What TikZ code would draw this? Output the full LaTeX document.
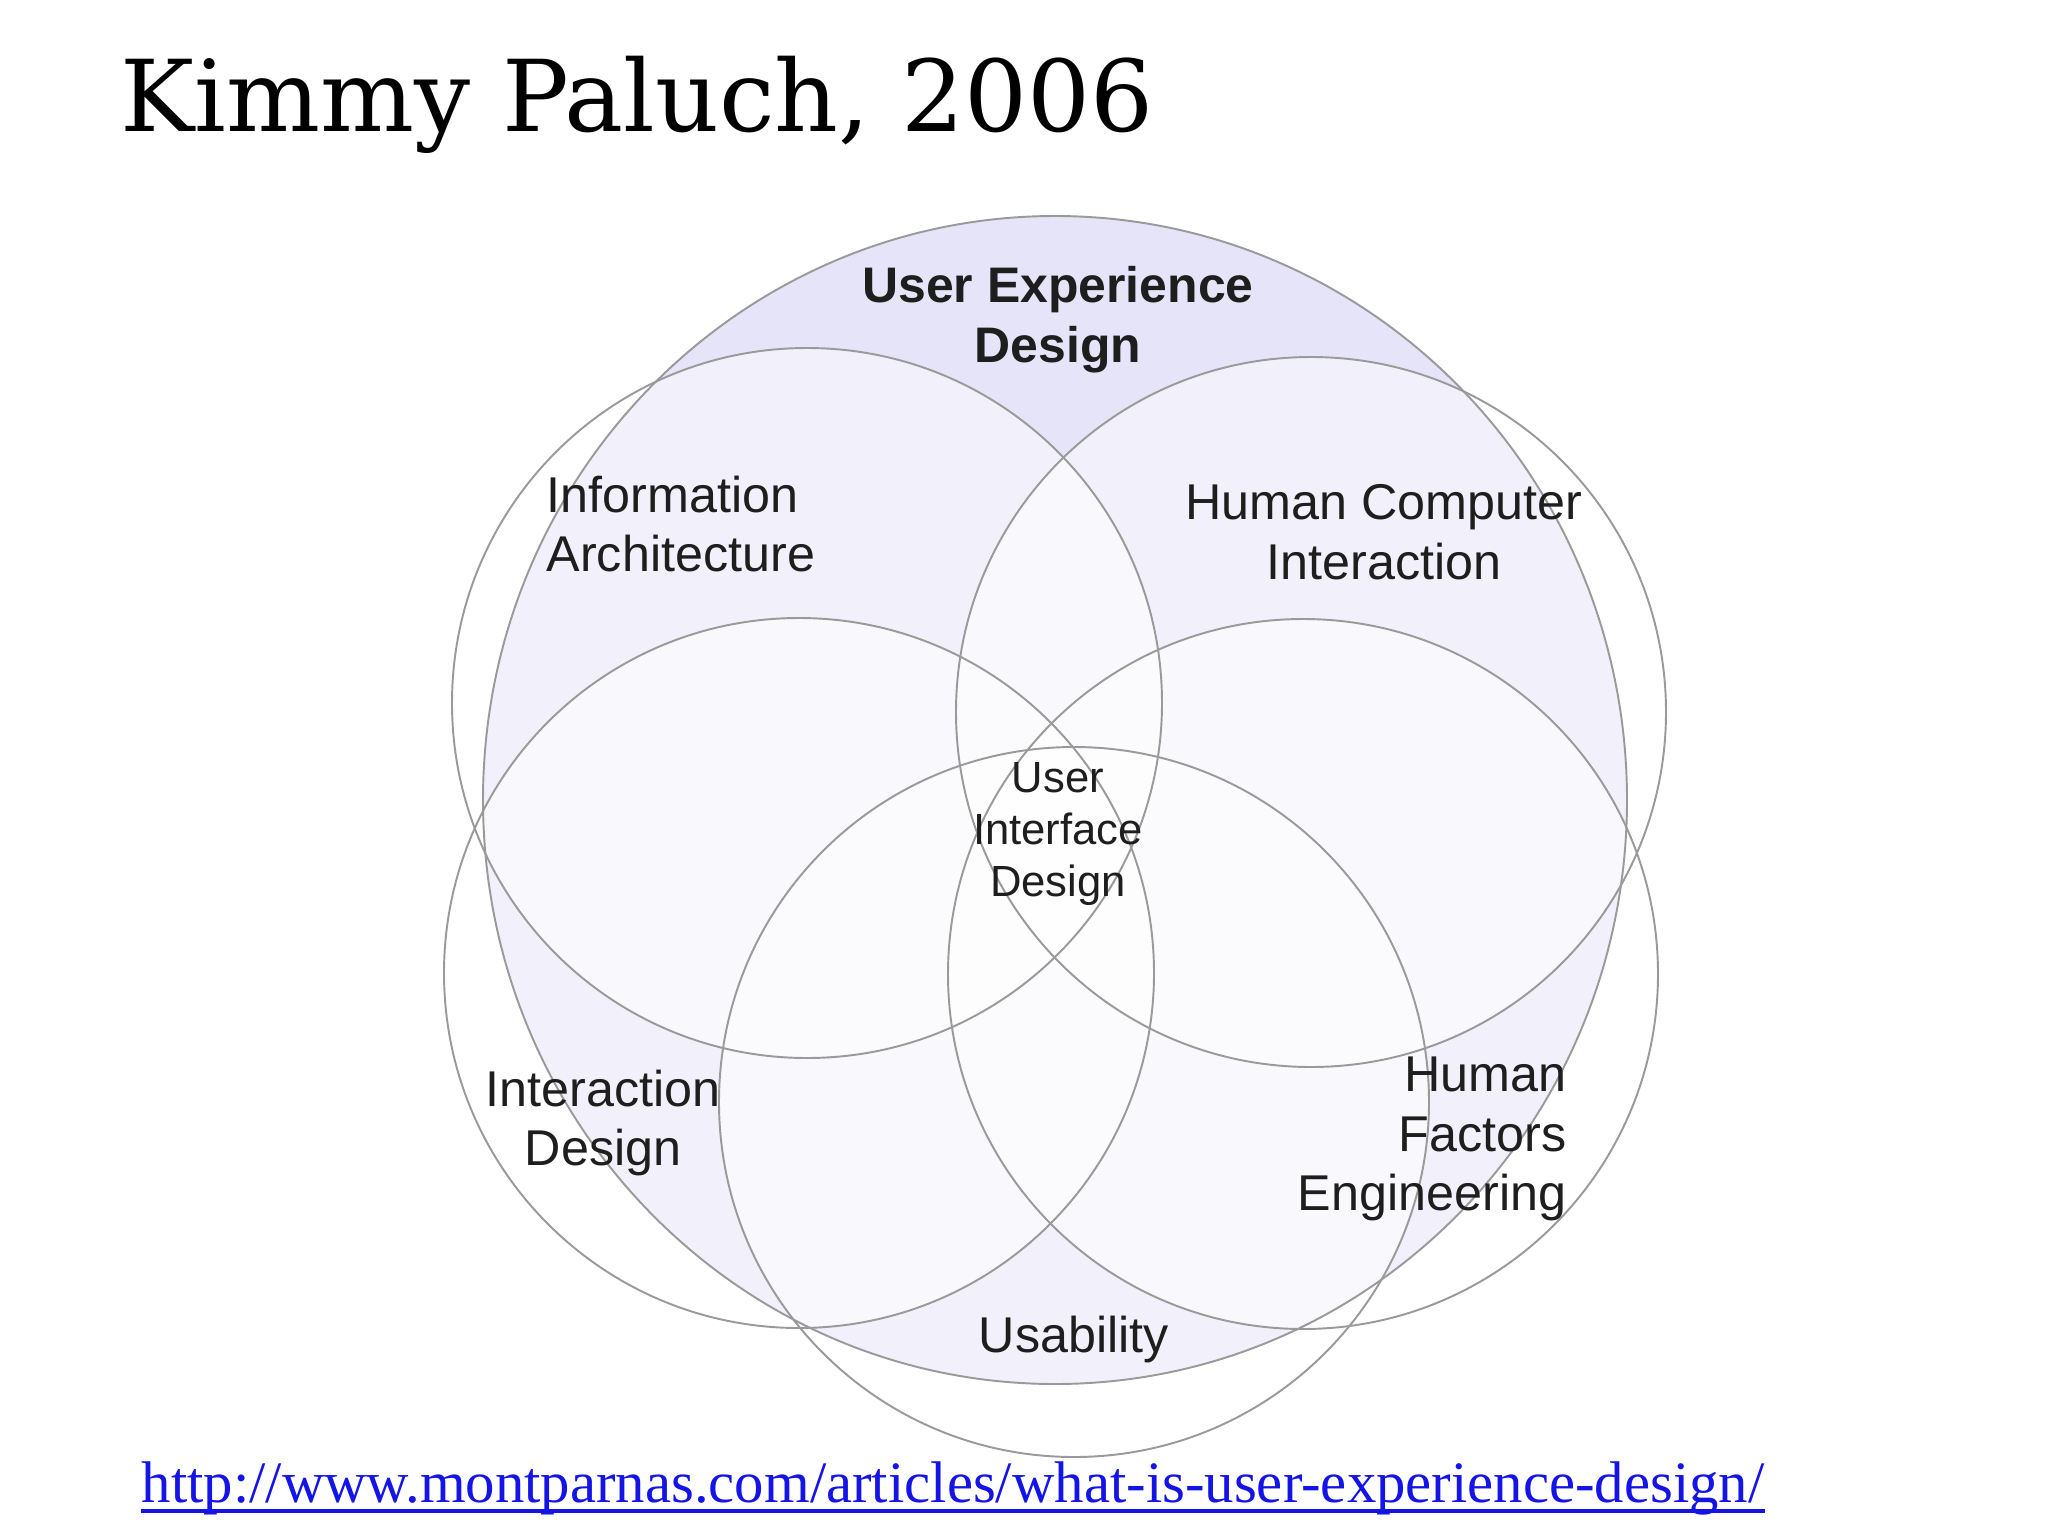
\documentclass[tikz,border=0pt]{standalone}
\usepackage{fontspec}
\setmainfont{Liberation Sans}
\newfontfamily\titlefont{DejaVu Serif}
\newfontfamily\linkfont{Liberation Serif}
\usepackage{tikz}
\definecolor{uxlav}{HTML}{E6E4F8}
\definecolor{ringgray}{HTML}{9A9A9A}
\definecolor{linkblue}{HTML}{1414E6}
\definecolor{inkgray}{HTML}{1E1E1E}

\begin{document}
\begin{tikzpicture}[x=0.01cm,y=-0.01cm,
    ring/.style={draw=ringgray,line width=0.55pt},
    veil/.style={fill=white,fill opacity=0.5},
    lbl/.style={text=inkgray,align=center,inner sep=0pt,font=\fontsize{14.3}{17}\selectfont}]
\useasboundingbox (0,0) rectangle (2048,1536);
\fill[white] (0,0) rectangle (2048,1536);

\fill[uxlav] (1055,800) ellipse (572 and 584);
\foreach \cx/\cy in {807/703,1311/712,799/973,1303/974,1074/1102}
    \fill[veil] (\cx,\cy) circle (355);
\draw[ring] (1055,800) ellipse (572 and 584);
\foreach \cx/\cy in {807/703,1311/712,799/973,1303/974,1074/1102}
    \draw[ring] (\cx,\cy) circle (355);

\node[lbl,font=\bfseries\fontsize{14.2}{17}\selectfont] (uxd) at (1058,320) {User Experience\\Design};
\node[lbl,anchor=west,align=left] (ia) at (546,524) {Information\\Architecture};
\node[lbl] (hci) at (1384,532) {Human Computer\\Interaction};
\node[lbl,font=\fontsize{12.4}{14.8}\selectfont] (uid) at (1058,834) {User\\Interface\\Design};
\node[lbl] (ixd) at (603,1123) {Interaction\\Design};
\node[lbl,anchor=east,align=right] (hfe) at (1567,1139) {Human\\Factors\\Engineering};
\node[lbl] (usab) at (1074,1339) {Usability};

\node[anchor=base west,inner sep=0pt,font=\titlefont\fontsize{28.2}{30}\selectfont] (title) at (120,131) {Kimmy Paluch, 2006};
\node[anchor=base west,inner sep=0pt,text=linkblue,font=\linkfont\fontsize{16.7}{18}\selectfont] (url) at (141,1502) {http://www.montparnas.com/articles/what-is-user-experience-design/};
\draw[linkblue,line width=1.1pt] ([yshift=-2.6pt]url.base west) -- ([yshift=-2.6pt]url.base east);
\end{tikzpicture}
\end{document}
